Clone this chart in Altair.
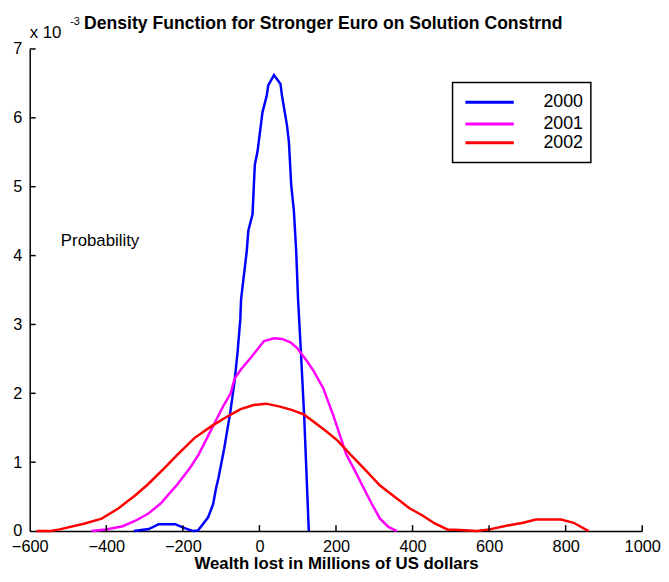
import altair as alt
import pandas as pd

series = ["2000", "2001", "2002"]
colors = ["#0000ff", "#ff00ff", "#ff0000"]

x2000 = [-328, -289, -263, -220, -199, -173, -160, -134, -121, -113, -107, -92, -76, -65, -57,
         -50, -48, -33, -29, -18, -12, -5, 8, 19, 23, 38, 55, 59, 72, 77, 83, 90, 96, 101,
         108, 117, 129]
y2000 = [0, 0.03, 0.1, 0.1, 0.05, 0, 0.01, 0.2, 0.39, 0.63, 0.77, 1.2, 1.73, 2.17, 2.6,
         3.07, 3.36, 4.07, 4.36, 4.6, 5.32, 5.51, 6.08, 6.32, 6.47, 6.62, 6.49, 6.32, 5.89,
         5.65, 5.03, 4.65, 4.07, 3.36, 2.64, 1.66, 0]

x2001 = [-439, -401, -357, -324, -291, -258, -236, -214, -181, -159, -137, -115, -93, -75,
         -65, -48, -22, -5, 12, 38, 59, 81, 98, 124, 141, 167, 193, 227, 249, 271, 293, 315,
         337, 359]
y2001 = [0, 0.024, 0.07, 0.15, 0.25, 0.40, 0.54, 0.68, 0.92, 1.11, 1.35, 1.59, 1.83, 2.0,
         2.21, 2.35, 2.52, 2.64, 2.76, 2.80, 2.79, 2.74, 2.66, 2.47, 2.33, 2.07, 1.68, 1.11,
         0.88, 0.64, 0.40, 0.18, 0.06, 0]

x2002 = [-582, -544, -522, -456, -412, -368, -324, -291, -247, -214, -170, -126, -82, -49,
         -15, 17, 51, 84, 117, 172, 205, 238, 271, 315, 348, 392, 425, 458, 491, 524, 568,
         601, 645, 689, 722, 788, 821, 860]
y2002 = [0, 0, 0.024, 0.11, 0.18, 0.33, 0.52, 0.68, 0.92, 1.11, 1.35, 1.52, 1.67, 1.77,
         1.83, 1.85, 1.81, 1.76, 1.69, 1.46, 1.31, 1.11, 0.92, 0.66, 0.52, 0.33, 0.23, 0.11,
         0.024, 0.014, 0, 0.024, 0.077, 0.12, 0.167, 0.167, 0.12, 0]

xticks = [-600, -400, -200, 0, 200, 400, 600, 800, 1000]
yticks = [0, 1, 2, 3, 4, 5, 6, 7]

title_text = "Density Function for Stronger Euro on Solution Constrnd"
xtitle = "Wealth lost in Millions of US dollars"
ytitle = "Probability"

rows = []
for s, xs, ys in zip(series, [x2000, x2001, x2002], [y2000, y2001, y2002]):
    for i, (a, b) in enumerate(zip(xs, ys)):
        rows.append({"series": s, "x": a, "y": b, "i": i})
df = pd.DataFrame(rows)

W, H = 620, 488
FONT = "Liberation Sans"

xscale = alt.Scale(domain=[-600, 1000], nice=False, zero=False)
yscale = alt.Scale(domain=[0, 7], nice=False, zero=False)

xaxis = alt.Axis(values=xticks, title=xtitle, grid=False, tickSize=0, labelPadding=8,
                 format="d", labelFontSize=16.5, labelColor="black", domainColor="black",
                 domainWidth=1.5, titleFontSize=17, titleFontWeight="bold",
                 titleColor="black", titlePadding=0, labelFlush=False)
yaxis = alt.Axis(values=yticks, title=ytitle, grid=False, tickSize=0, labelPadding=8,
                 labelFontSize=16.5, labelColor="black", domainColor="black", domainWidth=1.5,
                 titleAngle=0, titleX=31, titleY=194, titleAlign="left",
                 titleBaseline="middle", titleFontWeight="normal", titleFontSize=17,
                 titleColor="black")

dummy = pd.DataFrame({"a": [0]})

# legend frame and entries (guide layout)
frame = alt.Chart(dummy).mark_rect(fill="white", stroke="black", strokeWidth=1.5).encode(
    x=alt.value(428), x2=alt.value(568), y=alt.value(34), y2=alt.value(115))
leg_rows = [54, 76, 95]
leg_layers = []
for s, c, ry in zip(series, colors, leg_rows):
    leg_layers.append(alt.Chart(dummy).mark_rule(color=c, strokeWidth=3).encode(
        x=alt.value(441), x2=alt.value(490), y=alt.value(ry)))
    leg_layers.append(alt.Chart(dummy).mark_text(text=s, fontSize=18, align="left",
                                                 baseline="middle", color="black").encode(
        x=alt.value(520), y=alt.value(ry)))

lines = alt.Chart(df).mark_line(strokeWidth=2.5).encode(
    x=alt.X("x:Q", scale=xscale, axis=xaxis),
    y=alt.Y("y:Q", scale=yscale, axis=yaxis),
    color=alt.Color("series:N", scale=alt.Scale(domain=series, range=colors), legend=None),
    order=alt.Order("i:Q"),
)

xt = alt.Chart(pd.DataFrame({"x": xticks[1:]})).mark_rule(color="black", strokeWidth=1.5).encode(
    x=alt.X("x:Q", scale=xscale, axis=xaxis), y=alt.value(H), y2=alt.value(H - 6))
yt = alt.Chart(pd.DataFrame({"y": yticks[1:]})).mark_rule(color="black", strokeWidth=1.5).encode(
    y=alt.Y("y:Q", scale=yscale, axis=yaxis), x=alt.value(0), x2=alt.value(6))

ttl = alt.Chart(dummy).mark_text(text=title_text, fontSize=17.8, fontWeight="bold",
                                 align="left", baseline="middle", color="black").encode(
    x=alt.value(55), y=alt.value(-25))
x10 = alt.Chart(dummy).mark_text(text="x 10", fontSize=17, align="left", baseline="middle",
                                 color="black").encode(x=alt.value(0), y=alt.value(-16))
exp = alt.Chart(dummy).mark_text(text="-3", fontSize=11, align="left", baseline="middle",
                                 color="black").encode(x=alt.value(41), y=alt.value(-27))

chart = alt.layer(lines, xt, yt, frame, *leg_layers, ttl, x10, exp).properties(
    width=W, height=H,
    autosize=alt.AutoSizeParams(type="none"),
    padding={"left": 22, "top": 38, "right": 19, "bottom": 40},
).configure(font=FONT).configure_view(stroke=None)

chart.save("out.html", embed_options={"renderer": "svg", "actions": False})
